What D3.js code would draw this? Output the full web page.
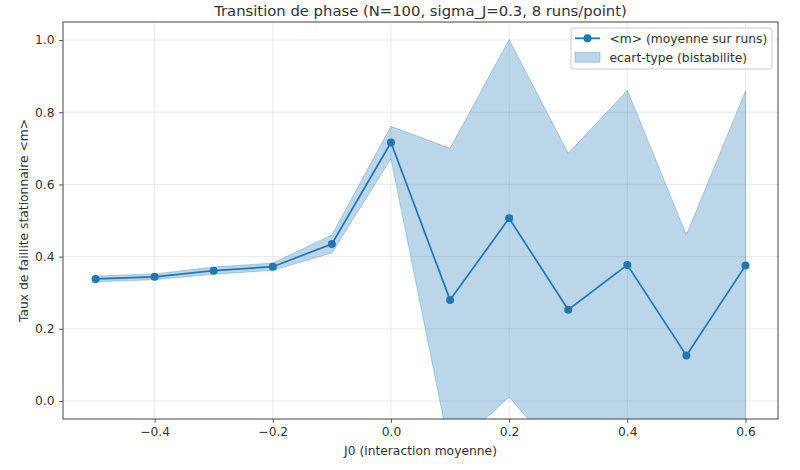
<!DOCTYPE html>
<html>
<head>
<meta charset="utf-8">
<script src="https://cdn.jsdelivr.net/npm/d3@7"></script>
<style>
  body { margin: 0; background: #fff; }
  svg text { font-family: "DejaVu Sans", sans-serif; }
</style>
</head>
<body>
<div id="chart"></div>
<script>
// data
const j0 = [-0.5, -0.4, -0.3, -0.2, -0.1, 0.0, 0.1, 0.2, 0.3, 0.4, 0.5, 0.6];
const meanM = [0.338, 0.344, 0.361, 0.372, 0.435, 0.716, 0.280, 0.506, 0.253, 0.377, 0.126, 0.375];
const stdM = [0.008, 0.008, 0.010, 0.010, 0.025, 0.045, 0.420, 0.495, 0.433, 0.484, 0.334, 0.484];
const xTicks = [-0.4, -0.2, 0.0, 0.2, 0.4, 0.6];
const yTicks = [0.0, 0.2, 0.4, 0.6, 0.8, 1.0];

const W = 800, H = 470;
const margin = {top: 22, right: 22, bottom: 51, left: 63};
const width = W - margin.left - margin.right,
      height = H - margin.top - margin.bottom;
const blue = "#1f77b4";
const fs = "12.3px";

const svg = d3.select("#chart").append("svg")
    .attr("width", W)
    .attr("height", H);

const g = svg.append("g")
    .attr("transform", `translate(${margin.left},${margin.top})`);

const x = d3.scaleLinear().domain([-0.555, 0.655]).range([0, width]);
const y = d3.scaleLinear().domain([-0.05, 1.05]).range([height, 0]);

g.append("clipPath").attr("id", "clip")
    .append("rect").attr("width", width).attr("height", height);

// grid
g.append("g").selectAll("line").data(xTicks).enter().append("line")
    .attr("x1", d => x(d)).attr("x2", d => x(d))
    .attr("y1", 0).attr("y2", height)
    .attr("stroke", "#b0b0b0").attr("stroke-opacity", 0.3).attr("stroke-width", 0.9);
g.append("g").selectAll("line").data(yTicks).enter().append("line")
    .attr("y1", d => y(d)).attr("y2", d => y(d))
    .attr("x1", 0).attr("x2", width)
    .attr("stroke", "#b0b0b0").attr("stroke-opacity", 0.3).attr("stroke-width", 0.9);

const rows = j0.map((d, i) => ({x: d, m: meanM[i], s: stdM[i]}));

const plot = g.append("g").attr("clip-path", "url(#clip)");

// std band
plot.append("path")
    .datum(rows)
    .attr("d", d3.area()
        .x(d => x(d.x))
        .y0(d => y(d.m - d.s))
        .y1(d => y(d.m + d.s)))
    .attr("fill", blue).attr("fill-opacity", 0.3)
    .attr("stroke", blue).attr("stroke-opacity", 0.3).attr("stroke-width", 1);

// mean line
plot.append("path")
    .datum(rows)
    .attr("d", d3.line().x(d => x(d.x)).y(d => y(d.m)))
    .attr("fill", "none").attr("stroke", blue).attr("stroke-width", 1.7);

plot.selectAll(".dot").data(rows).enter().append("circle")
    .attr("class", "dot")
    .attr("cx", d => x(d.x)).attr("cy", d => y(d.m))
    .attr("r", 4).attr("fill", blue);

// axes
const fmtX = d => d3.format(".1f")(d).replace("-", "\u2212");
const xAxis = g.append("g")
    .attr("transform", `translate(0,${height})`)
    .call(d3.axisBottom(x).tickValues(xTicks).tickFormat(fmtX).tickSize(3.9).tickPadding(4.5));
const yAxis = g.append("g")
    .call(d3.axisLeft(y).tickValues(yTicks).tickFormat(d3.format(".1f")).tickSize(3.9).tickPadding(4.5));
[xAxis, yAxis].forEach(a => {
    a.select(".domain").remove();
    a.selectAll("line").attr("stroke", "#444").attr("stroke-width", 0.9);
    a.selectAll("text").attr("fill", "#333").style("font-size", fs)
        .style("font-family", "DejaVu Sans, sans-serif");
});

// frame
g.append("rect")
    .attr("width", width).attr("height", height)
    .attr("fill", "none").attr("stroke", "#444").attr("stroke-width", 1);

// title and labels
svg.append("text")
    .attr("x", margin.left + width / 2).attr("y", 16)
    .attr("text-anchor", "middle")
    .style("font-size", "14.8px").attr("fill", "#333")
    .text("Transition de phase (N=100, sigma_J=0.3, 8 runs/point)");

svg.append("text")
    .attr("x", margin.left + width / 2).attr("y", 455)
    .attr("text-anchor", "middle")
    .style("font-size", fs).attr("fill", "#333")
    .text("J0 (interaction moyenne)");

svg.append("text")
    .attr("transform", `translate(28,${margin.top + height / 2}) rotate(-90)`)
    .attr("text-anchor", "middle")
    .style("font-size", fs).attr("fill", "#333")
    .text("Taux de faillite stationnaire <m>");

// legend
const lg = svg.append("g").attr("transform", "translate(571,28)");
lg.append("rect")
    .attr("width", 201).attr("height", 41).attr("rx", 2.5)
    .attr("fill", "#fff").attr("fill-opacity", 0.8)
    .attr("stroke", "#ccc").attr("stroke-width", 1);
lg.append("line")
    .attr("x1", 4).attr("x2", 29).attr("y1", 10.3).attr("y2", 10.3)
    .attr("stroke", blue).attr("stroke-width", 1.7);
lg.append("circle").attr("cx", 16.5).attr("cy", 10.3).attr("r", 4).attr("fill", blue);
lg.append("rect")
    .attr("x", 4).attr("y", 24.3).attr("width", 25).attr("height", 10)
    .attr("fill", blue).attr("fill-opacity", 0.3)
    .attr("stroke", blue).attr("stroke-opacity", 0.3);
lg.append("text").attr("x", 38.5).attr("y", 14.7)
    .style("font-size", fs).attr("fill", "#333")
    .text("<m> (moyenne sur runs)");
lg.append("text").attr("x", 38.5).attr("y", 33.6)
    .style("font-size", fs).attr("fill", "#333")
    .text("ecart-type (bistabilite)");
</script>
</body>
</html>
